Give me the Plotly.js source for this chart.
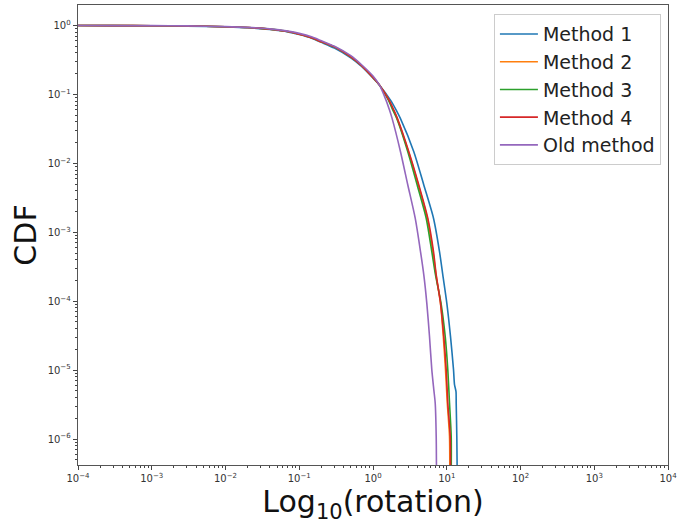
<!DOCTYPE html>
<html>
<head>
<meta charset="utf-8">
<script src="https://cdn.plot.ly/plotly-3.0.1.min.js"></script>
<style>html,body{margin:0;padding:0;background:#fff;}#chart{width:679px;height:525px;}</style>
</head>
<body>
<div id="chart"></div>
<script>
// Series names
const names = ["Method 1", "Method 2", "Method 3", "Method 4", "Old method"];
const colors = ["#1f77b4", "#ff7f0e", "#2ca02c", "#d62728", "#9467bd"];

// Tick labels
const xTickVals = [1e-4, 1e-3, 1e-2, 1e-1, 1e0, 1e1, 1e2, 1e3, 1e4];
const xTickText = ["10<sup>−4</sup>", "10<sup>−3</sup>", "10<sup>−2</sup>", "10<sup>−1</sup>", "10<sup>0</sup>", "10<sup>1</sup>", "10<sup>2</sup>", "10<sup>3</sup>", "10<sup>4</sup>"];
const yTickVals = [1e-6, 1e-5, 1e-4, 1e-3, 1e-2, 1e-1, 1e0];
const yTickText = ["10<sup>−6</sup>", "10<sup>−5</sup>", "10<sup>−4</sup>", "10<sup>−3</sup>", "10<sup>−2</sup>", "10<sup>−1</sup>", "10<sup>0</sup>"];

// Method 1 (blue)
const x1 = [1e-4, 3e-4, 1e-3, 3e-3, 0.01, 0.02, 0.04, 0.07, 0.1, 0.15, 0.2, 0.3, 0.5, 0.7, 1.0,
  1.225, 1.726, 2.063, 2.35, 3.575, 4.885, 6.612, 7.975, 8.840, 10.02, 11.24, 12.35, 12.74, 13.35, 13.43, 13.69, 13.86];
const y1 = [0.999, 0.997, 0.993, 0.982, 0.955, 0.93, 0.875, 0.81, 0.74, 0.65, 0.57, 0.47, 0.34, 0.255, 0.173,
  0.1365, 0.0828, 0.0593, 0.04496, 0.01476, 0.004859, 1.6e-3, 5.25e-4, 2.41e-4, 9.39e-5, 3.08e-5, 1.015e-5, 6.15e-6, 4.87e-6, 3.34e-6, 1.10e-6, 3e-7];

// Method 2 (orange)
const x2 = [1e-4, 3e-4, 1e-3, 3e-3, 0.01, 0.02, 0.04, 0.07, 0.1, 0.15, 0.2, 0.3, 0.5, 0.7, 1.0,
  1.225, 1.64, 1.90, 2.12, 3.03, 4.12, 5.45, 6.50, 7.15, 8.228, 8.98, 9.618, 10.17, 10.90, 11.00];
const y2 = [0.9993, 0.998, 0.995, 0.985, 0.96, 0.935, 0.885, 0.82, 0.75, 0.66, 0.58, 0.49, 0.35, 0.262, 0.176,
  0.1365, 0.0828, 0.0593, 0.04496, 0.01476, 0.004859, 1.6e-3, 5.25e-4, 2.41e-4, 9.39e-5, 3.08e-5, 1.015e-5, 3.34e-6, 1.10e-6, 3e-7];

// Method 3 (green)
const x3 = [1e-4, 3e-4, 1e-3, 3e-3, 0.01, 0.02, 0.04, 0.07, 0.1, 0.15, 0.2, 0.3, 0.5, 0.7, 1.0,
  1.225, 1.62, 1.856, 2.10, 2.965, 3.975, 5.265, 6.271, 7.039, 8.356, 9.528, 10.33, 10.90, 11.49, 11.49];
const y3 = [0.9993, 0.998, 0.995, 0.985, 0.96, 0.935, 0.886, 0.82, 0.752, 0.662, 0.582, 0.492, 0.352, 0.263, 0.176,
  0.1365, 0.0828, 0.0593, 0.04496, 0.01476, 0.004859, 1.6e-3, 5.25e-4, 2.41e-4, 9.39e-5, 3.08e-5, 1.015e-5, 3.34e-6, 1.10e-6, 3e-7];

// Method 4 (red)
const x4 = [1e-4, 3e-4, 1e-3, 3e-3, 0.01, 0.02, 0.04, 0.07, 0.1, 0.15, 0.2, 0.3, 0.5, 0.7, 1.0,
  1.225, 1.65, 1.914, 2.14, 3.058, 4.178, 5.534, 6.612, 7.193, 8.228, 9.120, 9.829, 10.33, 11.14, 11.24];
const y4 = [0.9993, 0.998, 0.995, 0.985, 0.96, 0.935, 0.885, 0.82, 0.75, 0.66, 0.58, 0.49, 0.35, 0.262, 0.176,
  0.1365, 0.0828, 0.0593, 0.04496, 0.01476, 0.004859, 1.6e-3, 5.25e-4, 2.41e-4, 9.39e-5, 3.08e-5, 1.015e-5, 3.34e-6, 1.10e-6, 3e-7];

// Old method (purple)
const x5 = [1e-4, 3e-4, 1e-3, 3e-3, 0.01, 0.02, 0.04, 0.07, 0.1, 0.15, 0.2, 0.3, 0.5, 0.7, 1.0,
  1.225, 1.50, 1.674, 1.815, 2.360, 2.965, 3.735, 4.406, 4.885, 5.364, 5.836, 6.271, 6.674, 6.973, 7.193, 7.261];
const y5 = [0.9995, 0.9985, 0.996, 0.988, 0.965, 0.94, 0.895, 0.83, 0.77, 0.68, 0.60, 0.50, 0.365, 0.27, 0.185,
  0.1365, 0.0828, 0.0593, 0.04496, 0.01476, 0.004859, 1.6e-3, 5.25e-4, 2.41e-4, 9.39e-5, 3.08e-5, 1.015e-5, 5.21e-6, 3.34e-6, 1.10e-6, 3e-7];

const xs = [x1, x2, x3, x4, x5];
const ys = [y1, y2, y3, y4, y5];

const traces = names.map((n, i) => ({
  x: xs[i], y: ys[i], name: n, type: "scatter", mode: "lines",
  line: {color: colors[i], width: 1.6, shape: "spline", smoothing: 0.7}
}));

const axisCommon = {
  type: "log",
  showgrid: false,
  zeroline: false,
  showline: true,
  mirror: true,
  linecolor: "#555",
  linewidth: 1.3,
  ticks: "outside",
  ticklen: 4,
  tickwidth: 1,
  tickcolor: "#444",
  tickmode: "array",
  tickfont: {family: "DejaVu Sans", size: 10, color: "#333"},
  minor: {ticks: "outside", ticklen: 2, tickcolor: "#444", dtick: "D1", showgrid: false}
};

const layout = {
  width: 679, height: 525,
  margin: {l: 78, r: 11, t: 5, b: 60},
  paper_bgcolor: "#fff", plot_bgcolor: "#fff",
  showlegend: true,
  xaxis: Object.assign({}, axisCommon, {
    range: [-4, 4],
    tickvals: xTickVals, ticktext: xTickText,
    title: {text: "Log<sub>10</sub>(rotation)", font: {family: "DejaVu Sans", size: 30, color: "#111"}, standoff: 4}
  }),
  yaxis: Object.assign({}, axisCommon, {
    range: [-6.377, 0.298],
    tickvals: yTickVals, ticktext: yTickText,
    title: {text: "CDF", font: {family: "DejaVu Sans", size: 30, color: "#111"}, standoff: 2}
  }),
  legend: {
    x: 0.988, y: 0.98, xanchor: "right", yanchor: "top",
    bgcolor: "rgba(255,255,255,0.8)", bordercolor: "#ccc", borderwidth: 1,
    font: {family: "DejaVu Sans", size: 19, color: "#222"},
    itemwidth: 38,
    tracegroupgap: 0
  }
};

Plotly.newPlot("chart", traces, layout, {staticPlot: true, displayModeBar: false});
</script>
</body>
</html>
